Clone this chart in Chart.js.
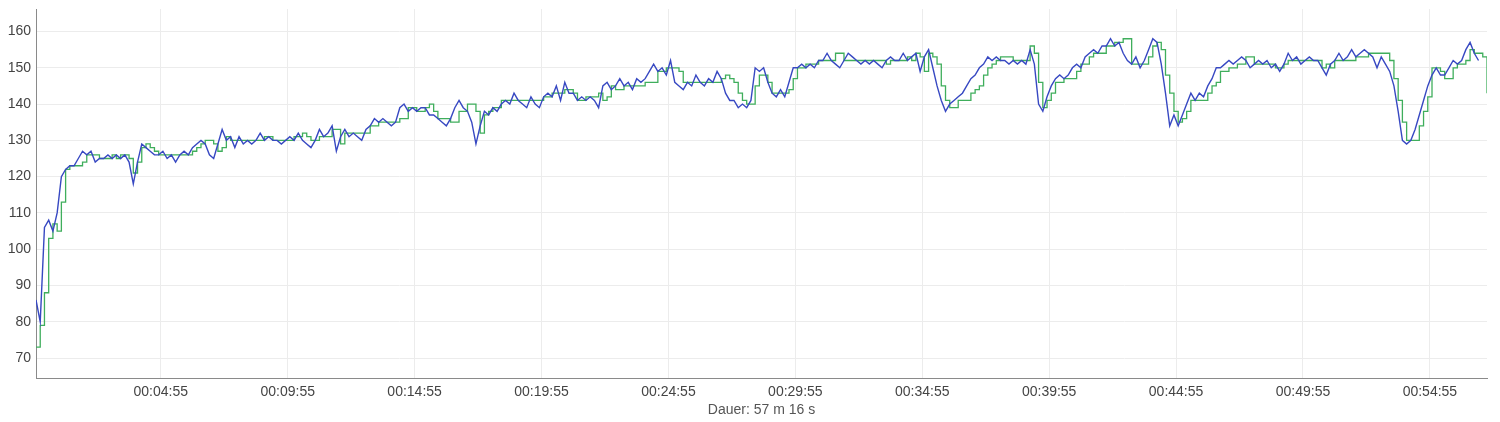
<!DOCTYPE html>
<html>
<head>
<meta charset="utf-8">
<script src="https://cdn.jsdelivr.net/npm/chart.js@4.4.1/dist/chart.umd.min.js"></script>
<style>
  html, body { margin: 0; background: #fff; }
  #wrap { width: 1500px; height: 422px; }
</style>
</head>
<body>
<div id="wrap"><canvas id="puls"></canvas></div>
<script>
// Abstand der Messpunkte in Sekunden
const STEP = 10;
const DAUER_SEK = 3430;

// Herzfrequenz (blau), ein Wert pro 10 s, eine Zeile pro Minute
const blau = [
  86, 80, 106, 108, 105, 110,
  120, 122, 123, 123, 125, 127,
  126, 127, 124, 125, 125, 126,
  125, 126, 125, 126, 124, 118,
  124, 129, 128, 127, 126, 126,
  127, 125, 126, 124, 126, 127,
  126, 128, 129, 130, 129, 126,
  125, 129, 133, 130, 131, 128,
  131, 129, 130, 129, 130, 132,
  130, 131, 130, 130, 129, 130,
  131, 130, 132, 130, 129, 128,
  130, 133, 131, 132, 134, 127,
  131, 133, 131, 132, 131, 130,
  133, 134, 136, 135, 136, 135,
  134, 135, 139, 140, 138, 139,
  138, 139, 139, 137, 137, 136,
  135, 134, 136, 139, 141, 139,
  138, 135, 129, 134, 138, 137,
  139, 138, 140, 141, 140, 143,
  141, 140, 139, 142, 140, 139,
  142, 143, 142, 145, 141, 146,
  143, 143, 141, 142, 141, 142,
  141, 139, 145, 146, 144, 145,
  147, 145, 146, 144, 147, 146,
  147, 149, 151, 149, 150, 148,
  152, 146, 145, 144, 146, 145,
  148, 146, 145, 147, 146, 149,
  147, 143, 141, 141, 139, 140,
  139, 141, 150, 149, 150, 146,
  143, 142, 144, 142, 146, 150,
  150, 151, 150, 151, 150, 152,
  152, 154, 152, 151, 150, 152,
  154, 153, 152, 151, 152, 151,
  152, 151, 150, 152, 153, 152,
  152, 154, 152, 153, 154, 149,
  153, 155, 150, 145, 141, 138,
  140, 141, 142, 143, 145, 147,
  148, 150, 151, 153, 152, 153,
  152, 152, 151, 152, 151, 152,
  151, 155, 151, 140, 138, 142,
  145, 147, 148, 147, 148, 150,
  151, 150, 153, 154, 155, 154,
  156, 156, 158, 156, 157, 154,
  152, 151, 153, 150, 152, 155,
  158, 157, 151, 143, 134, 137,
  134, 137, 140, 143, 141, 143,
  142, 145, 147, 150, 150, 151,
  152, 151, 152, 153, 152, 150,
  151, 152, 151, 152, 150, 151,
  149, 151, 154, 152, 153, 151,
  152, 153, 152, 152, 150, 148,
  151, 152, 154, 152, 153, 155,
  153, 154, 155, 154, 153, 150,
  153, 151, 149, 145, 138, 130,
  129, 130, 133, 137, 141, 145,
  148, 150, 148, 148, 150, 152,
  151, 152, 155, 157, 154, 152
];

// geglaettete Kurve (gruen), gleiche Zeitbasis
const gruen = [
  73, 79, 88, 103, 107, 105,
  113, 122, 123, 123, 123, 124,
  126, 126, 126, 125, 125, 125,
  126, 125, 126, 126, 125, 121,
  124, 128, 129, 128, 127, 126,
  126, 126, 126, 126, 126, 126,
  126, 127, 128, 129, 130, 130,
  129, 127, 128, 131, 130, 130,
  130, 130, 130, 130, 130, 130,
  131, 131, 130, 130, 130, 130,
  130, 131, 131, 132, 131, 130,
  130, 131, 131, 131, 133, 133,
  129, 132, 132, 132, 132, 132,
  132, 134, 134, 135, 135, 135,
  135, 135, 136, 136, 139, 139,
  138, 138, 139, 140, 138, 136,
  136, 136, 135, 135, 138, 138,
  140, 140, 138, 132, 137, 138,
  139, 139, 141, 141, 141, 141,
  141, 141, 141, 141, 141, 141,
  142, 142, 143, 143, 143, 144,
  144, 143, 141, 141, 142, 142,
  142, 143, 141, 142, 145, 144,
  144, 145, 145, 145, 145, 145,
  146, 146, 146, 149, 149, 150,
  150, 150, 149, 146, 146, 146,
  146, 146, 146, 146, 146, 146,
  147, 148, 147, 146, 143, 141,
  140, 140, 145, 148, 148, 146,
  143, 143, 143, 143, 144, 147,
  150, 150, 151, 151, 151, 152,
  152, 152, 152, 154, 154, 152,
  152, 152, 152, 152, 152, 152,
  152, 152, 152, 151, 152, 152,
  152, 152, 153, 152, 154, 153,
  149, 154, 153, 151, 145, 141,
  139, 139, 141, 141, 141, 143,
  144, 145, 148, 150, 151, 152,
  153, 153, 153, 152, 152, 152,
  152, 156, 154, 146, 139, 141,
  143, 146, 146, 147, 147, 147,
  149, 151, 151, 153, 154, 154,
  154, 156, 156, 157, 157, 158,
  158, 151, 151, 151, 151, 153,
  156, 157, 155, 148, 143, 138,
  135, 136, 138, 141, 141, 141,
  141, 143, 145, 146, 149, 149,
  150, 150, 151, 151, 153, 153,
  151, 151, 151, 151, 151, 150,
  150, 151, 152, 152, 152, 152,
  152, 152, 152, 152, 150, 151,
  150, 152, 152, 152, 152, 152,
  153, 153, 153, 154, 154, 154,
  154, 154, 152, 147, 141, 135,
  130, 130, 130, 134, 138, 142,
  150, 150, 149, 147, 147, 150,
  151, 151, 152, 155, 154, 154,
  153, 143
];

const xTickSek = [295, 595, 895, 1195, 1495, 1795, 2095, 2395, 2695, 2995, 3295];
const xTickLabels = ['00:04:55', '00:09:55', '00:14:55', '00:19:55', '00:24:55', '00:29:55',
  '00:34:55', '00:39:55', '00:44:55', '00:49:55', '00:54:55'];
const yTicks = [70, 80, 90, 100, 110, 120, 130, 140, 150, 160];

const zuPunkten = arr => arr.map((v, i) => ({ x: i * STEP, y: v }));

const textFarbe = '#444';
const gitter = '#ececec';

new Chart(document.getElementById('puls'), {
  type: 'line',
  data: {
    datasets: [
      {
        label: 'Herzfrequenz',
        data: zuPunkten(blau),
        borderColor: '#3748c2',
        borderWidth: 1.4,
        pointRadius: 0,
        tension: 0
      },
      {
        label: 'geglättet',
        data: zuPunkten(gruen),
        borderColor: '#3fae5c',
        borderWidth: 1.3,
        pointRadius: 0,
        stepped: true
      }
    ]
  },
  options: {
    responsive: true,
    maintainAspectRatio: false,
    animation: false,
    layout: { padding: { top: 9, right: 13, left: 0, bottom: 0 } },
    plugins: {
      legend: { display: false },
      tooltip: { enabled: false }
    },
    scales: {
      x: {
        type: 'linear',
        min: 0,
        max: DAUER_SEK,
        afterBuildTicks: axis => { axis.ticks = xTickSek.map(v => ({ value: v })); },
        afterFit: axis => { axis.height = 44; axis.paddingLeft = 0; axis.paddingRight = 0; },
        grid: { color: gitter, drawTicks: false },
        border: { color: '#8a8a8a', width: 1 },
        ticks: {
          color: textFarbe,
          padding: 6,
          maxRotation: 0,
          autoSkip: false,
          font: { family: 'Liberation Sans, Arial, sans-serif', size: 14 },
          callback: (v, i) => xTickLabels[i]
        },
        title: {
          display: true,
          text: 'Dauer: 57 m 16 s',
          color: '#555',
          padding: { top: 0, bottom: 3 },
          font: { family: 'Liberation Sans, Arial, sans-serif', size: 14 }
        }
      },
      y: {
        min: 64.5,
        max: 166.2,
        afterBuildTicks: axis => { axis.ticks = yTicks.map(v => ({ value: v })); },
        afterFit: axis => { axis.width = 36; axis.paddingTop = 0; axis.paddingBottom = 0; },
        grid: { color: gitter, drawTicks: false },
        border: { color: '#8a8a8a', width: 1 },
        ticks: {
          color: textFarbe,
          padding: 5,
          font: { family: 'Liberation Sans, Arial, sans-serif', size: 14 }
        }
      }
    }
  }
});
</script>
</body>
</html>
